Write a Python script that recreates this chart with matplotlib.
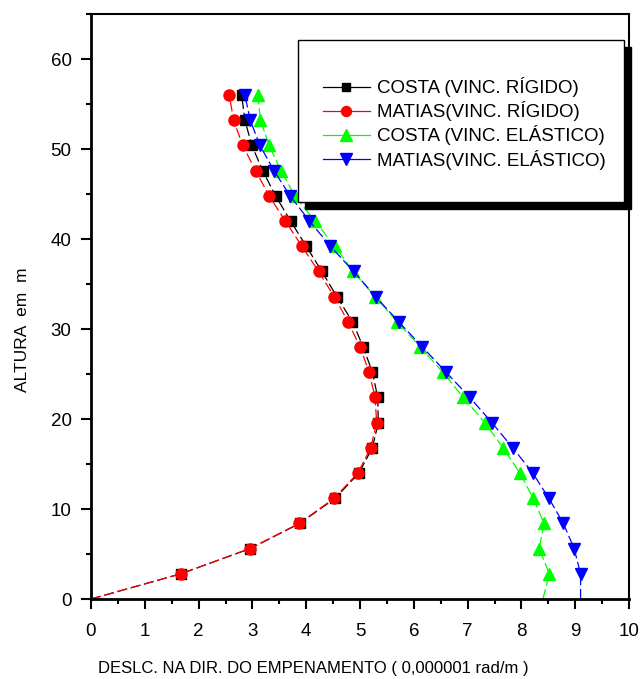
import matplotlib
matplotlib.use("Agg")
import matplotlib.pyplot as plt
from matplotlib.patches import Rectangle
from matplotlib.lines import Line2D
from matplotlib.ticker import MultipleLocator

plt.rcParams['font.family'] = ['Liberation Sans', 'DejaVu Sans']

# Height along the column (m)
altura = [0.0, 2.8, 5.6, 8.4, 11.2, 14.0, 16.8, 19.6, 22.4, 25.2, 28.0,
          30.8, 33.6, 36.4, 39.2, 42.0, 44.8, 47.6, 50.4, 53.2, 56.0]

# Warping displacement (0.000001 rad/m) for each model
costa_rigido = [0.0, 1.67, 2.96, 3.88, 4.54, 4.98, 5.23, 5.34, 5.33, 5.23, 5.06,
                4.86, 4.57, 4.29, 4.00, 3.71, 3.43, 3.19, 2.99, 2.86, 2.80]
matias_rigido = [0.0, 1.67, 2.95, 3.87, 4.52, 4.96, 5.20, 5.31, 5.28, 5.17, 5.00,
                 4.78, 4.52, 4.23, 3.92, 3.61, 3.31, 3.06, 2.82, 2.65, 2.57]
costa_elastico = [8.40, 8.52, 8.33, 8.42, 8.22, 7.97, 7.66, 7.32, 6.92, 6.54, 6.12,
                  5.69, 5.28, 4.87, 4.53, 4.16, 3.79, 3.53, 3.31, 3.15, 3.10]
matias_elastico = [9.10, 9.10, 8.98, 8.78, 8.51, 8.21, 7.84, 7.45, 7.04, 6.60, 6.16,
                   5.72, 5.29, 4.88, 4.45, 4.06, 3.70, 3.40, 3.14, 2.96, 2.86]

labels = ["COSTA (VINC. RÍGIDO)", "MATIAS(VINC. RÍGIDO)",
          "COSTA (VINC. ELÁSTICO)", "MATIAS(VINC. ELÁSTICO)"]

fig = plt.figure(figsize=(6.42, 6.79), dpi=100)
ax = fig.add_axes([91 / 642, 80 / 679, 538 / 642, 585 / 679])

dash = (0, (8, 3))
marks = list(range(1, len(altura)))  # no symbol at the base point

series = [
    (costa_rigido, 'k', 's', 6.5),
    (matias_rigido, 'red', 'o', 8),
    (costa_elastico, '#00ff00', '^', 9),
    (matias_elastico, 'blue', 'v', 9),
]
legend_keys = []
for (vals, col, mk, ms), lab in zip(series, labels):
    ax.plot(vals, altura, color=col, lw=0.9, linestyle=dash,
            marker=mk, markersize=ms, markerfacecolor=col,
            markeredgecolor=col, markevery=marks)
    # legend keys use a continuous line through the symbol
    legend_keys.append(Line2D([], [], color=col, lw=0.9, linestyle='-',
                              marker=mk, markersize=ms * 0.9,
                              markerfacecolor=col, markeredgecolor=col,
                              label=lab))

ax.set_xlim(0, 10)
ax.set_ylim(0, 65)
ax.xaxis.set_major_locator(MultipleLocator(1))
ax.xaxis.set_minor_locator(MultipleLocator(0.5))
ax.yaxis.set_major_locator(MultipleLocator(10))
ax.yaxis.set_minor_locator(MultipleLocator(5))
ax.tick_params(which='major', direction='out', length=7, width=1.5,
               labelsize=13.5, top=False, right=False)
ax.tick_params(which='minor', direction='out', length=3.5, width=1.5,
               top=False, right=False)
ax.tick_params(axis='x', pad=10)
ax.tick_params(axis='y', pad=7)
for side in ['left', 'bottom']:
    ax.spines[side].set_linewidth(2)
for side in ['top', 'right']:
    ax.spines[side].set_linewidth(1.5)

ax.set_xlabel("DESLC. NA DIR. DO EMPENAMENTO ( 0,000001 rad/m )", fontsize=12)
ax.xaxis.set_label_coords(0.413, -0.106)
ax.set_ylabel("ALTURA  em  m", fontsize=12.5)
ax.yaxis.set_label_coords(-0.113, 0.46)

# Legend box with a solid drop shadow
bx0, bx1 = 0.385, 0.991
by0, by1 = 0.6786, 0.9556
sx, sy = 0.013, 0.012
ax.add_patch(Rectangle((bx0 + sx, by0 - sy), bx1 - bx0, by1 - by0,
                       transform=ax.transAxes, facecolor='k', edgecolor='k',
                       zorder=9, clip_on=False))
ax.add_patch(Rectangle((bx0, by0), bx1 - bx0, by1 - by0,
                       transform=ax.transAxes, facecolor='white',
                       edgecolor='k', lw=1.0, zorder=10, clip_on=False))
leg = ax.legend(handles=legend_keys, loc='upper left',
                bbox_to_anchor=(0.431, 0.892), frameon=False,
                fontsize=13.5, handlelength=2.5, handletextpad=0.4,
                labelspacing=0.22, borderpad=0, borderaxespad=0)
leg.set_zorder(11)

fig.savefig("out.png", dpi=100)
